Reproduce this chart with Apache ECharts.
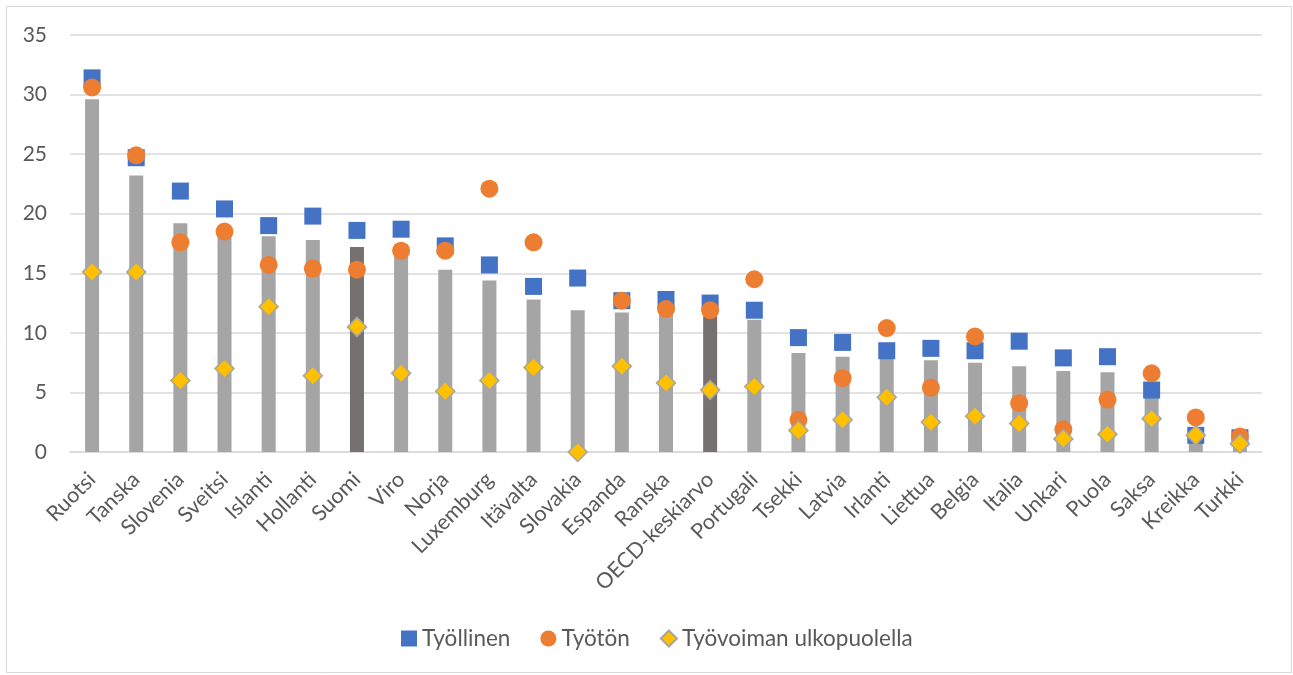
<!DOCTYPE html>
<html>
<head>
<meta charset="utf-8">
<script src="https://cdn.jsdelivr.net/npm/echarts@6/dist/echarts.min.js"></script>
<style>
  html, body { margin: 0; padding: 0; background: #fff; }
  #chart { width: 1293px; height: 675px; }
</style>
</head>
<body>
<div id="chart"></div>
<script>
// Maat järjestettynä kokonaisosuuden mukaan
const categories = ['Ruotsi', 'Tanska', 'Slovenia', 'Sveitsi', 'Islanti', 'Hollanti', 'Suomi', 'Viro', 'Norja',
  'Luxemburg', 'Itävalta', 'Slovakia', 'Espanda', 'Ranska', 'OECD-keskiarvo', 'Portugali', 'Tsekki', 'Latvia',
  'Irlanti', 'Liettua', 'Belgia', 'Italia', 'Unkari', 'Puola', 'Saksa', 'Kreikka', 'Turkki'];

// Kokonaisosuus (pylväät)
const totalValues = [29.6, 23.2, 19.2, 18.3, 18.1, 17.8, 17.2, 16.6, 15.3, 14.4, 12.8, 11.9, 11.7, 11.6, 11.4,
  11.1, 8.3, 8.0, 7.8, 7.7, 7.5, 7.2, 6.8, 6.7, 5.0, 1.5, 0.9];

// Työllinen
const employedValues = [31.4, 24.7, 21.9, 20.4, 19.0, 19.8, 18.6, 18.7, 17.3, 15.7, 13.9, 14.6, 12.7, 12.8, 12.5,
  11.9, 9.6, 9.2, 8.5, 8.7, 8.5, 9.3, 7.9, 8.0, 5.2, 1.4, 1.2];

// Työtön (Slovakialta ei arvoa)
const unemployedValues = [30.6, 24.9, 17.6, 18.5, 15.7, 15.4, 15.3, 16.9, 16.9, 22.1, 17.6, null, 12.7, 12.0, 11.9,
  14.5, 2.7, 6.2, 10.4, 5.4, 9.7, 4.1, 1.9, 4.4, 6.6, 2.9, 1.3];

// Työvoiman ulkopuolella
const outsideValues = [15.1, 15.1, 6.0, 7.0, 12.2, 6.4, 10.5, 6.6, 5.1, 6.0, 7.1, 0.0, 7.2, 5.8, 5.2, 5.5, 1.8,
  2.7, 4.6, 2.5, 3.0, 2.4, 1.1, 1.5, 2.8, 1.4, 0.7];

// Tummemmalla korostetut pylväät
const highlighted = ['Suomi', 'OECD-keskiarvo'];

const seriesNames = ['Työllinen', 'Työtön', 'Työvoiman ulkopuolella'];
const yTicks = { min: 0, max: 35, interval: 5 };

const FONT = 'Lato';
const TEXT = '#595959';

const chart = echarts.init(document.getElementById('chart'), null, { renderer: 'canvas' });

chart.setOption({
  animation: false,
  backgroundColor: '#fff',
  textStyle: { fontFamily: FONT },
  graphic: [{
    type: 'rect',
    shape: { x: 6.5, y: 6.5, width: 1285, height: 666 },
    style: { fill: 'none', stroke: '#D9D9D9', lineWidth: 1 },
    silent: true
  }],
  grid: { left: 70, right: 31, top: 35, bottom: 223, containLabel: false },
  legend: {
    data: [
      { name: seriesNames[0], icon: 'rect' },
      { name: seriesNames[1], icon: 'circle' },
      { name: seriesNames[2], icon: 'diamond' }
    ],
    left: 396,
    top: 622,
    itemWidth: 16,
    itemHeight: 16,
    itemGap: 30,
    textStyle: { color: TEXT, fontSize: 22.5, fontFamily: FONT }
  },
  xAxis: {
    type: 'category',
    data: categories,
    axisLine: { show: true, lineStyle: { color: '#D9D9D9', width: 1.5 } },
    axisTick: { show: false },
    axisLabel: {
      rotate: 45,
      interval: 0,
      margin: 24,
      color: TEXT,
      fontSize: 21.5,
      fontFamily: FONT
    }
  },
  yAxis: {
    type: 'value',
    min: yTicks.min,
    max: yTicks.max,
    interval: yTicks.interval,
    axisLine: { show: false },
    axisTick: { show: false },
    splitLine: { lineStyle: { color: '#D9D9D9', width: 1.5 } },
    axisLabel: { color: TEXT, fontSize: 21, margin: 23, fontFamily: FONT }
  },
  series: [
    {
      name: 'Yhteensä',
      type: 'bar',
      barWidth: 14,
      data: totalValues.map((v, i) => ({
        value: v,
        itemStyle: { color: highlighted.includes(categories[i]) ? '#767171' : '#A5A5A5' }
      })),
      z: 1
    },
    {
      name: seriesNames[0],
      type: 'scatter',
      symbol: 'rect',
      symbolSize: 17,
      data: employedValues,
      itemStyle: { color: '#4472C4', opacity: 1 },
      z: 2
    },
    {
      name: seriesNames[1],
      type: 'scatter',
      symbol: 'circle',
      symbolSize: 18,
      data: unemployedValues.map(v => (v === null ? '-' : v)),
      itemStyle: { color: '#ED7D31', opacity: 1 },
      z: 3
    },
    {
      name: seriesNames[2],
      type: 'scatter',
      symbol: 'diamond',
      symbolSize: 19,
      data: outsideValues,
      itemStyle: { color: '#FFC000', borderColor: '#A5A5A5', borderWidth: 1.5, opacity: 1 },
      z: 4
    }
  ]
});
</script>
</body>
</html>
